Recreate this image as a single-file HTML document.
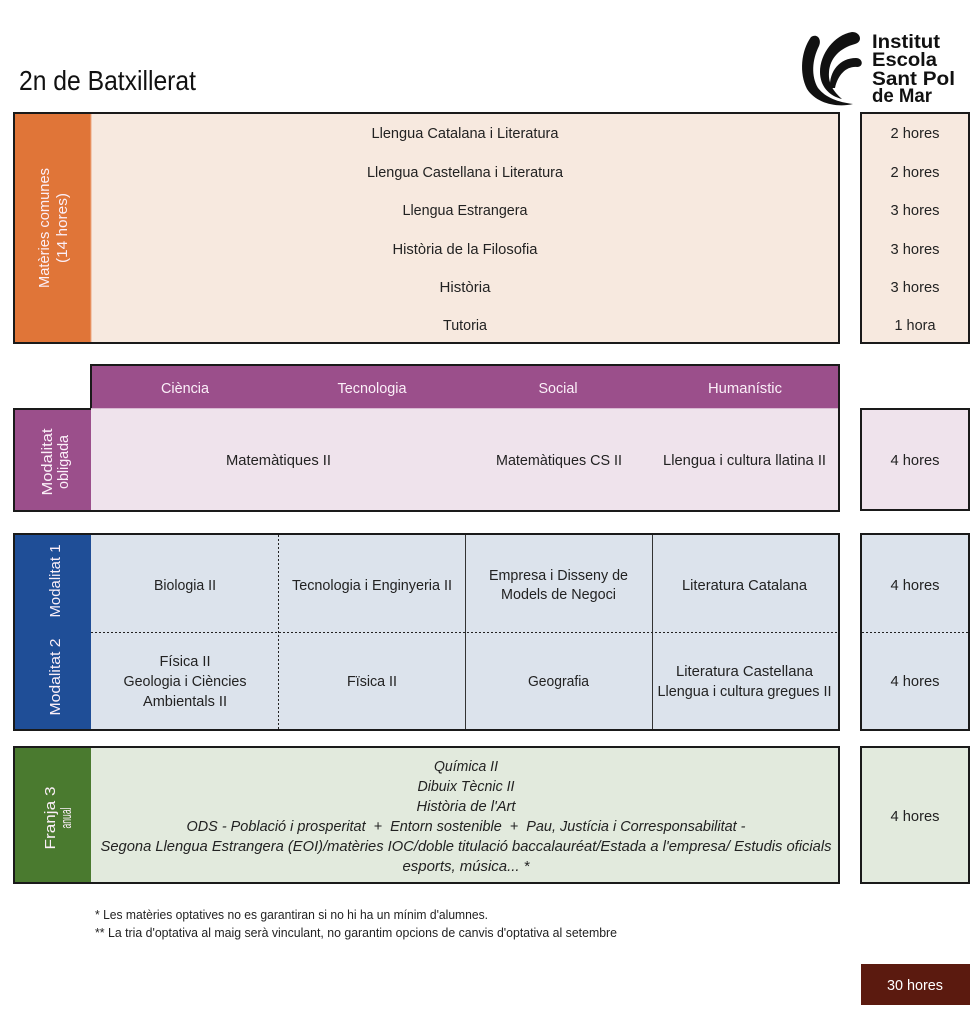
<!DOCTYPE html>
<html><head><meta charset="utf-8"><style>
html,body{margin:0;padding:0;background:#fff;}
svg{display:block;}
text{font-family:"Liberation Sans Narrow","Liberation Sans","DejaVu Sans Condensed",sans-serif;fill:#222;}
.c{text-anchor:middle;font-size:15px;}
.w{fill:#fbeff8;}
.i{font-style:italic;}
.logo{font-family:"Liberation Sans",sans-serif;font-weight:bold;font-size:19px;fill:#111;}
</style></head><body>
<svg width="978" height="1024" viewBox="0 0 978 1024" xmlns="http://www.w3.org/2000/svg">
<rect width="978" height="1024" fill="#fff"/>

<!-- title -->
<text x="19" y="90" font-size="28" textLength="177" lengthAdjust="spacingAndGlyphs" style="fill:#111">2n de Batxillerat</text>

<!-- logo -->
<path d="M811,37 C817,33 822,39 819,46 C812,60 811,76 818,88 C826,98 838,102 853,104 C836,108 816,103 807,89 C799,73 801,51 811,37 Z" fill="#111"/>
<path d="M852,32 C861,32 863,42 855,44 C840,48 830,58 829,72 C828,84 834,92 842,99 C829,96 820,86 820,72 C820,54 834,35 852,32 Z" fill="#111"/>
<path d="M830,88 C829,71 840,58 856,58 C863,58 864,67 857,67 C847,66 838,74 835,88 Z" fill="#111"/>
<text class="logo" x="872" y="48" textLength="68" lengthAdjust="spacingAndGlyphs">Institut</text>
<text class="logo" x="872" y="66" textLength="65" lengthAdjust="spacingAndGlyphs">Escola</text>
<text class="logo" x="872" y="85" textLength="83" lengthAdjust="spacingAndGlyphs">Sant Pol</text>
<text class="logo" x="872" y="102" textLength="60" lengthAdjust="spacingAndGlyphs">de Mar</text>

<!-- Box 1 : Matèries comunes -->
<rect x="14" y="113" width="825" height="230" fill="#f7e9df" stroke="#1a1a1a" stroke-width="2"/>
<rect x="15" y="114" width="76" height="228" fill="#e07538"/>
<line x1="91" y1="114" x2="91" y2="342" stroke="#eea880" stroke-width="1"/>
<text class="c w" transform="translate(49,228) rotate(-90)" font-size="16" textLength="120" lengthAdjust="spacingAndGlyphs">Matèries comunes</text>
<text class="c w" transform="translate(67,228) rotate(-90)" font-size="16" textLength="70" lengthAdjust="spacingAndGlyphs">(14 hores)</text>

<text class="c" x="465" y="138" textLength="187" lengthAdjust="spacingAndGlyphs">Llengua Catalana i Literatura</text>
<text class="c" x="465" y="177" textLength="196" lengthAdjust="spacingAndGlyphs">Llengua Castellana i Literatura</text>
<text class="c" x="465" y="215" textLength="125" lengthAdjust="spacingAndGlyphs">Llengua Estrangera</text>
<text class="c" x="465" y="254" textLength="145" lengthAdjust="spacingAndGlyphs">Història de la Filosofia</text>
<text class="c" x="465" y="292" textLength="51" lengthAdjust="spacingAndGlyphs">Història</text>
<text class="c" x="465" y="330" textLength="44" lengthAdjust="spacingAndGlyphs">Tutoria</text>

<rect x="861" y="113" width="108" height="230" fill="#f7e9df" stroke="#1a1a1a" stroke-width="2"/>
<text class="c" x="915" y="138" textLength="49" lengthAdjust="spacingAndGlyphs">2 hores</text>
<text class="c" x="915" y="177" textLength="49" lengthAdjust="spacingAndGlyphs">2 hores</text>
<text class="c" x="915" y="215" textLength="49" lengthAdjust="spacingAndGlyphs">3 hores</text>
<text class="c" x="915" y="254" textLength="49" lengthAdjust="spacingAndGlyphs">3 hores</text>
<text class="c" x="915" y="292" textLength="49" lengthAdjust="spacingAndGlyphs">3 hores</text>
<text class="c" x="915" y="330" textLength="41" lengthAdjust="spacingAndGlyphs">1 hora</text>

<!-- Purple header -->
<rect x="91" y="365" width="748" height="43" fill="#9b4f8b"/>
<path d="M91,409 L91,365 L839,365 L839,409" fill="none" stroke="#1a1a1a" stroke-width="2"/>
<text class="c w" x="185" y="393" textLength="48" lengthAdjust="spacingAndGlyphs">Ciència</text>
<text class="c w" x="372" y="393" textLength="69" lengthAdjust="spacingAndGlyphs">Tecnologia</text>
<text class="c w" x="558" y="393" textLength="39" lengthAdjust="spacingAndGlyphs">Social</text>
<text class="c w" x="745" y="393" textLength="74" lengthAdjust="spacingAndGlyphs">Humanístic</text>

<!-- Box 2 : Modalitat obligada -->
<rect x="91" y="408" width="748" height="102" fill="#efe3ec"/>
<line x1="91" y1="408.5" x2="839" y2="408.5" stroke="#d9b8d2" stroke-width="1"/>
<rect x="15" y="409" width="76" height="101" fill="#9b4f8b"/>
<path d="M14,409 L91,409 M14,408 L14,511 L839,511 L839,408" fill="none" stroke="#1a1a1a" stroke-width="2"/>
<text class="c w" transform="translate(52,462) rotate(-90)" font-size="16" textLength="67" lengthAdjust="spacingAndGlyphs">Modalitat</text>
<text class="c w" transform="translate(68,462) rotate(-90)" font-size="16" textLength="54" lengthAdjust="spacingAndGlyphs">obligada</text>
<text class="c" x="278.5" y="465" textLength="105" lengthAdjust="spacingAndGlyphs">Matemàtiques II</text>
<text class="c" x="559" y="465" textLength="126" lengthAdjust="spacingAndGlyphs">Matemàtiques CS II</text>
<text class="c" x="744.5" y="465" textLength="163" lengthAdjust="spacingAndGlyphs">Llengua i cultura llatina II</text>

<rect x="861" y="409" width="108" height="101" fill="#efe3ec" stroke="#1a1a1a" stroke-width="2"/>
<text class="c" x="915" y="465" textLength="49" lengthAdjust="spacingAndGlyphs">4 hores</text>

<!-- Box 3 : Modalitat 1/2 -->
<rect x="14" y="534" width="825" height="196" fill="#dce3ec" stroke="#1a1a1a" stroke-width="2"/>
<rect x="15" y="535" width="76" height="194" fill="#1f4e97"/>
<line x1="278.5" y1="535" x2="278.5" y2="729" stroke="#222" stroke-width="1" stroke-dasharray="2,2"/>
<line x1="465.5" y1="535" x2="465.5" y2="729" stroke="#333" stroke-width="1"/>
<line x1="652.5" y1="535" x2="652.5" y2="729" stroke="#333" stroke-width="1"/>
<line x1="91" y1="632.5" x2="838" y2="632.5" stroke="#222" stroke-width="1" stroke-dasharray="2,2"/>
<text class="c w" transform="translate(60,581) rotate(-90)" font-size="16" textLength="73" lengthAdjust="spacingAndGlyphs">Modalitat 1</text>
<text class="c w" transform="translate(60,677) rotate(-90)" font-size="16" textLength="77" lengthAdjust="spacingAndGlyphs">Modalitat 2</text>

<text class="c" x="185" y="590" textLength="62" lengthAdjust="spacingAndGlyphs">Biologia II</text>
<text class="c" x="372" y="590" textLength="160" lengthAdjust="spacingAndGlyphs">Tecnologia i Enginyeria II</text>
<text class="c" x="558.5" y="580" textLength="139" lengthAdjust="spacingAndGlyphs">Empresa i Disseny de</text>
<text class="c" x="558.5" y="599" textLength="115" lengthAdjust="spacingAndGlyphs">Models de Negoci</text>
<text class="c" x="744.5" y="590" textLength="125" lengthAdjust="spacingAndGlyphs">Literatura Catalana</text>

<text class="c" x="185" y="666" textLength="51" lengthAdjust="spacingAndGlyphs">Física II</text>
<text class="c" x="185" y="686" textLength="123" lengthAdjust="spacingAndGlyphs">Geologia i Ciències</text>
<text class="c" x="185" y="706" textLength="84" lengthAdjust="spacingAndGlyphs">Ambientals II</text>
<text class="c" x="372" y="686" textLength="50" lengthAdjust="spacingAndGlyphs">Fïsica II</text>
<text class="c" x="558.5" y="686" textLength="61" lengthAdjust="spacingAndGlyphs">Geografia</text>
<text class="c" x="744.5" y="676" textLength="137" lengthAdjust="spacingAndGlyphs">Literatura Castellana</text>
<text class="c" x="744.5" y="696" textLength="174" lengthAdjust="spacingAndGlyphs">Llengua i cultura gregues II</text>

<rect x="861" y="534" width="108" height="196" fill="#dce3ec" stroke="#1a1a1a" stroke-width="2"/>
<line x1="862" y1="632.5" x2="968" y2="632.5" stroke="#222" stroke-width="1" stroke-dasharray="2,2"/>
<text class="c" x="915" y="590" textLength="49" lengthAdjust="spacingAndGlyphs">4 hores</text>
<text class="c" x="915" y="686" textLength="49" lengthAdjust="spacingAndGlyphs">4 hores</text>

<!-- Box 4 : Franja 3 -->
<rect x="14" y="747" width="825" height="136" fill="#e2eadd" stroke="#1a1a1a" stroke-width="2"/>
<rect x="15" y="748" width="76" height="134" fill="#4a7a2f"/>
<text class="c w" transform="translate(55,818) rotate(-90)" font-size="17" textLength="63" lengthAdjust="spacingAndGlyphs">Franja 3</text>
<text class="c w" transform="translate(71,818) rotate(-90)" font-size="11" textLength="21" lengthAdjust="spacingAndGlyphs">anual</text>

<text class="c i" x="466" y="771" textLength="64" lengthAdjust="spacingAndGlyphs">Química II</text>
<text class="c i" x="466" y="791" textLength="97" lengthAdjust="spacingAndGlyphs">Dibuix Tècnic II</text>
<text class="c i" x="466" y="811" textLength="99" lengthAdjust="spacingAndGlyphs">Història de l'Art</text>
<text class="c i" x="466" y="831" textLength="559" lengthAdjust="spacingAndGlyphs" xml:space="preserve">ODS - Població i prosperitat  +  Entorn sostenible  +  Pau, Justícia i Corresponsabilitat -</text>
<text class="c i" x="466" y="851" textLength="731" lengthAdjust="spacingAndGlyphs">Segona Llengua Estrangera (EOI)/matèries IOC/doble titulació baccalauréat/Estada a l'empresa/ Estudis oficials</text>
<text class="c i" x="466" y="871" textLength="127" lengthAdjust="spacingAndGlyphs">esports, música... *</text>

<rect x="861" y="747" width="108" height="136" fill="#e2eadd" stroke="#1a1a1a" stroke-width="2"/>
<text class="c" x="915" y="821" textLength="49" lengthAdjust="spacingAndGlyphs">4 hores</text>

<!-- footnotes -->
<text x="95" y="919" font-size="12.5" textLength="393" lengthAdjust="spacingAndGlyphs">* Les matèries optatives no es garantiran si no hi ha un mínim d'alumnes.</text>
<text x="95" y="937" font-size="12.5" textLength="522" lengthAdjust="spacingAndGlyphs">** La tria d'optativa al maig serà vinculant, no garantim opcions de canvis d'optativa al setembre</text>

<!-- total -->
<rect x="861" y="964" width="109" height="41" fill="#5b1a0f"/>
<text class="c" x="915" y="990" style="fill:#fff" textLength="56" lengthAdjust="spacingAndGlyphs">30 hores</text>
</svg>
</body></html>
